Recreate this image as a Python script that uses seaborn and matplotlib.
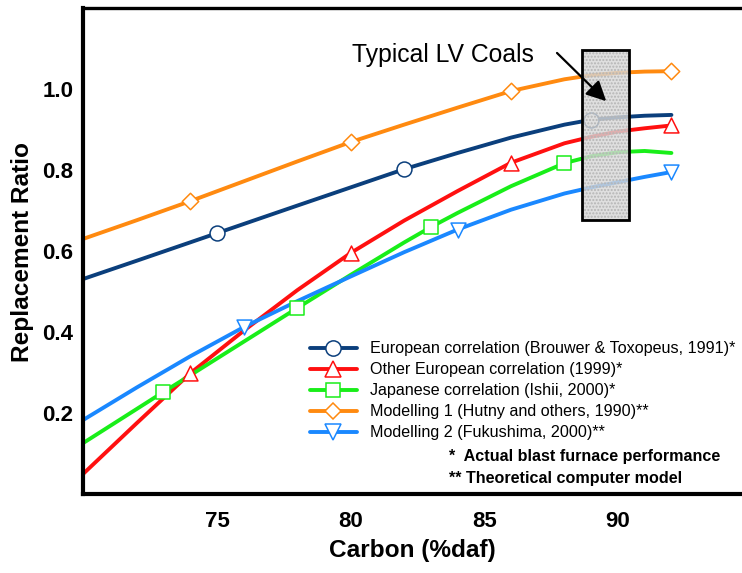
import matplotlib
matplotlib.use("Agg")
import matplotlib.pyplot as plt
from matplotlib.lines import Line2D
from matplotlib.patches import Rectangle
import pandas as pd
import seaborn as sns

# Replacement ratio vs. coal carbon content (%daf) for each correlation / model
carbon_euro = [70, 72, 75, 78, 80, 82, 84, 86, 88, 89, 90, 91, 92]
ratio_euro = [0.531, 0.576, 0.644, 0.712, 0.757, 0.802, 0.842, 0.880, 0.912, 0.924, 0.930, 0.934, 0.936]
marks_euro = [75, 82, 89]

carbon_other = [70, 72, 74, 76, 78, 80, 82, 84, 86, 88, 89, 90, 91, 92]
ratio_other = [0.050, 0.175, 0.298, 0.403, 0.503, 0.595, 0.675, 0.748, 0.818, 0.866, 0.882, 0.895, 0.903, 0.910]
marks_other = [74, 80, 86, 92]

carbon_japan = [70, 72, 73, 74, 76, 78, 80, 82, 83, 84, 86, 88, 89, 90, 91, 92]
ratio_japan = [0.126, 0.210, 0.252, 0.293, 0.376, 0.459, 0.541, 0.621, 0.659, 0.694, 0.760, 0.817, 0.834, 0.844, 0.847, 0.842]
marks_japan = [73, 78, 83, 88]

carbon_model1 = [70, 72, 74, 76, 78, 80, 82, 84, 86, 88, 89, 90, 91, 92]
ratio_model1 = [0.630, 0.676, 0.723, 0.772, 0.821, 0.869, 0.912, 0.954, 0.995, 1.024, 1.034, 1.040, 1.043, 1.044]
marks_model1 = [74, 80, 86, 92]

carbon_model2 = [70, 72, 74, 76, 78, 80, 82, 84, 86, 88, 89, 90, 91, 92]
ratio_model2 = [0.183, 0.263, 0.340, 0.412, 0.476, 0.537, 0.597, 0.653, 0.702, 0.742, 0.757, 0.770, 0.783, 0.795]
marks_model2 = [76, 84, 92]

series_labels = [
    "European correlation (Brouwer & Toxopeus, 1991)*",
    "Other European correlation (1999)*",
    "Japanese correlation (Ishii, 2000)*",
    "Modelling 1 (Hutny and others, 1990)**",
    "Modelling 2 (Fukushima, 2000)**",
]
series_colors = ["#0b3f7c", "#ff1010", "#19ee19", "#ff8a10", "#1a88ff"]
series_markers = ["o", "^", "s", "D", "v"]

x_ticks = [75, 80, 85, 90]
y_ticks = [0.2, 0.4, 0.6, 0.8, 1.0]
y_tick_labels = ["0.2", "0.4", "0.6", "0.8", "1.0"]

lv_coal_carbon = (88.66, 90.42)
lv_coal_ratio = (0.677, 1.096)

# long-form tables for seaborn
curves = [
    (carbon_euro, ratio_euro, marks_euro),
    (carbon_other, ratio_other, marks_other),
    (carbon_japan, ratio_japan, marks_japan),
    (carbon_model1, ratio_model1, marks_model1),
    (carbon_model2, ratio_model2, marks_model2),
]
line_rows, mark_rows = [], []
for label, (cx, ry, mk) in zip(series_labels, curves):
    lookup = dict(zip(cx, ry))
    for c, r in zip(cx, ry):
        line_rows.append({"carbon": c, "ratio": r, "series": label})
    for c in mk:
        mark_rows.append({"carbon": c, "ratio": lookup[c], "series": label})
lines_df = pd.DataFrame(line_rows)
marks_df = pd.DataFrame(mark_rows)

sns.set_theme(style="white")
plt.rcParams["font.family"] = ["Liberation Sans", "DejaVu Sans"]
plt.rcParams["text.color"] = "black"
plt.rcParams["axes.labelcolor"] = "black"
plt.rcParams["xtick.color"] = "black"
plt.rcParams["ytick.color"] = "black"

fig = plt.figure(figsize=(7.42, 5.73), dpi=100)
ax = fig.add_axes([83.3 / 742, 79 / 573, 658.7 / 742, 486 / 573])

palette = dict(zip(series_labels, series_colors))
sns.lineplot(data=lines_df, x="carbon", y="ratio", hue="series", palette=palette,
             estimator=None, sort=False, linewidth=2.8, legend=False, ax=ax, zorder=2)
for label, color, mk in zip(series_labels, series_colors, series_markers):
    sub = marks_df[marks_df["series"] == label]
    size = 115 if mk in ("o", "^", "v") else (95 if mk == "s" else 70)
    sns.scatterplot(data=sub, x="carbon", y="ratio", marker=mk, s=size,
                    facecolor="white", edgecolor=color, linewidth=1.1,
                    legend=False, ax=ax, zorder=3)

# typical low-volatile coal band
x0, x1 = lv_coal_carbon
y0, y1 = lv_coal_ratio
ax.add_patch(Rectangle((x0, y0), x1 - x0, y1 - y0, facecolor="#d8d8d8",
                       edgecolor="none", alpha=0.8, zorder=5))
ax.add_patch(Rectangle((x0, y0), x1 - x0, y1 - y0, fill=False, hatch=".....",
                       edgecolor="#b4b4b4", linewidth=0, zorder=5))
ax.add_patch(Rectangle((x0, y0), x1 - x0, y1 - y0, fill=False,
                       edgecolor="black", linewidth=2.0, zorder=6))
ax.annotate("", xy=(89.56, 0.970), xytext=(87.72, 1.089),
            arrowprops=dict(arrowstyle="-|>", color="black", lw=1.6,
                            mutation_scale=30, shrinkA=0, shrinkB=0),
            zorder=7)
fig.text(351.7 / 742, 1 - 62 / 573, "Typical LV Coals", fontsize=17.8,
         ha="left", va="baseline", color="black")

ax.set_xlim(70, 94.64)
ax.set_ylim(0, 1.2)
ax.set_xticks(x_ticks)
ax.set_xticklabels([str(t) for t in x_ticks])
ax.set_xticks([77.5, 82.5, 87.5], minor=True)
ax.set_yticks(y_ticks)
ax.set_yticklabels(y_tick_labels)
ax.set_yticks([0.1, 0.3, 0.5, 0.7, 0.9, 1.1], minor=True)
ax.tick_params(axis="both", which="both", direction="in", length=5, width=1.3,
               colors="black")
ax.tick_params(axis="x", which="major", pad=12, labelsize=16)
ax.tick_params(axis="y", which="major", pad=7, labelsize=16)
for lbl in ax.get_xticklabels() + ax.get_yticklabels():
    lbl.set_fontweight("bold")

for side in ("left", "bottom"):
    ax.spines[side].set_linewidth(3.0)
    ax.spines[side].set_color("black")
ax.spines["top"].set_linewidth(2.4)
ax.spines["top"].set_color("black")
ax.spines["right"].set_visible(False)

ax.set_xlabel("Carbon (%daf)", fontsize=17.6, fontweight="bold", color="black")
ax.set_ylabel("Replacement Ratio", fontsize=17.6, fontweight="bold", color="black")
ax.xaxis.set_label_coords(0.5, -0.092)
ax.yaxis.set_label_coords(-0.075, 0.497)

handles = [Line2D([0], [0], color=c, lw=2.8, marker=m,
                  markersize=(11 if m in ("o", "^", "v") else (10 if m == "s" else 8)),
                  markerfacecolor="white", markeredgecolor=c, markeredgewidth=1.1)
           for c, m in zip(series_colors, series_markers)]
leg = ax.legend(handles, series_labels, loc="upper left", bbox_to_anchor=(0.344, 0.314),
                frameon=False, fontsize=11.6, handlelength=2.9, handletextpad=0.8,
                labelspacing=0.37, borderpad=0, borderaxespad=0)
for t in leg.get_texts():
    t.set_color("black")

fig.text(449 / 742, 1 - 456 / 573, "*  Actual blast furnace performance",
         fontsize=11.6, fontweight="bold", ha="left", va="center", color="black")
fig.text(449 / 742, 1 - 479 / 573, "** Theoretical computer model",
         fontsize=11.6, fontweight="bold", ha="left", va="center", color="black")

fig.savefig("out.png", dpi=100)
